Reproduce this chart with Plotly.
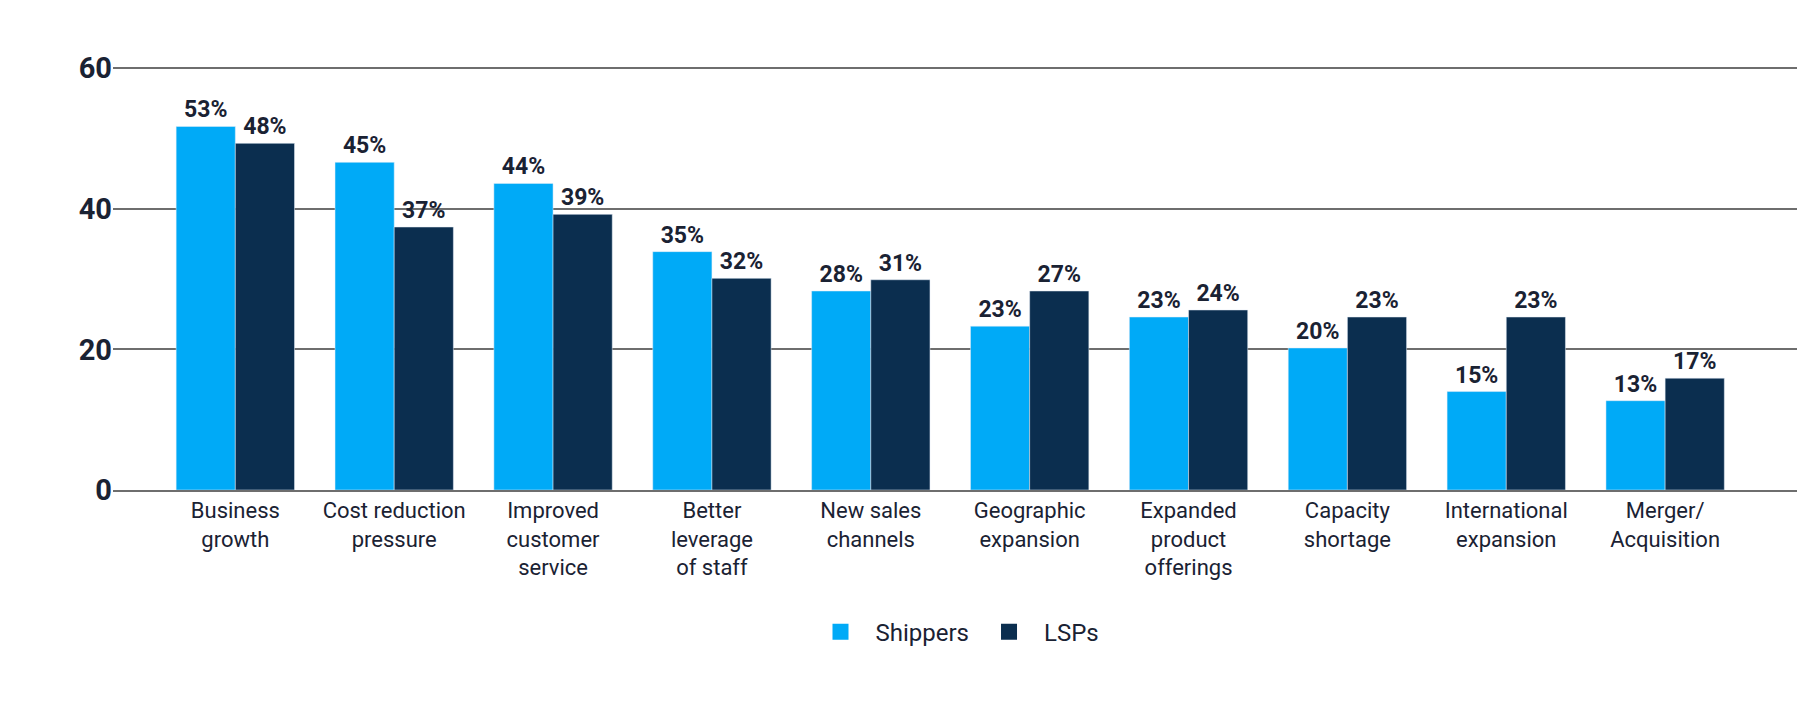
import plotly.graph_objects as go

categories = ["Business<br>growth", "Cost reduction<br>pressure", "Improved<br>customer<br>service",
              "Better<br>leverage<br>of staff", "New sales<br>channels", "Geographic<br>expansion",
              "Expanded<br>product<br>offerings", "Capacity<br>shortage", "International<br>expansion",
              "Merger/<br>Acquisition"]
shippers = [51.7, 46.6, 43.6, 33.9, 28.3, 23.3, 24.6, 20.2, 14.0, 12.7]
lsps = [49.3, 37.4, 39.2, 30.1, 29.9, 28.3, 25.6, 24.6, 24.6, 15.9]
shippers_labels = ["53%", "45%", "44%", "35%", "28%", "23%", "23%", "20%", "15%", "13%"]
lsps_labels = ["48%", "37%", "39%", "32%", "31%", "27%", "24%", "23%", "23%", "17%"]

fig = go.Figure()
for name, vals, labels, color in [("Shippers", shippers, shippers_labels, "#00aaf7"),
                                  ("LSPs", lsps, lsps_labels, "#0b2e4f")]:
    fig.add_trace(go.Bar(x=categories, y=vals, name=name, marker_color=color,
                         text=labels, textposition="outside", cliponaxis=False,
                         showlegend=False,
                         textfont=dict(size=23, color="#1a2233", family="Roboto", weight="bold")))
    # legend-only marker with a big square swatch
    fig.add_trace(go.Scatter(x=[None], y=[None], mode="markers", name=name,
                             marker=dict(symbol="square", size=38, color=color)))

fig.update_layout(
    barmode="group", bargap=0.255, bargroupgap=0,
    width=1812, height=703, plot_bgcolor="white", paper_bgcolor="white",
    font=dict(family="Roboto", color="#1a2233"),
    margin=dict(l=105, r=23, t=58, b=221),
    yaxis=dict(range=[0, 60.3], tickvals=[0, 20, 40, 60], ticksuffix="%",
               gridcolor="#6e6e6e", gridwidth=1.5,
               tickfont=dict(size=29, family="Roboto", weight="bold"), zeroline=False,
               showline=False),
    xaxis=dict(range=[-0.77, 9.83], tickfont=dict(size=22), showline=True,
               linecolor="#6e6e6e", linewidth=1.5),
    legend=dict(orientation="h", x=0.5, xanchor="center", y=-0.335, yanchor="middle",
                font=dict(size=24), itemwidth=60),
)
fig.write_html("out.html")
